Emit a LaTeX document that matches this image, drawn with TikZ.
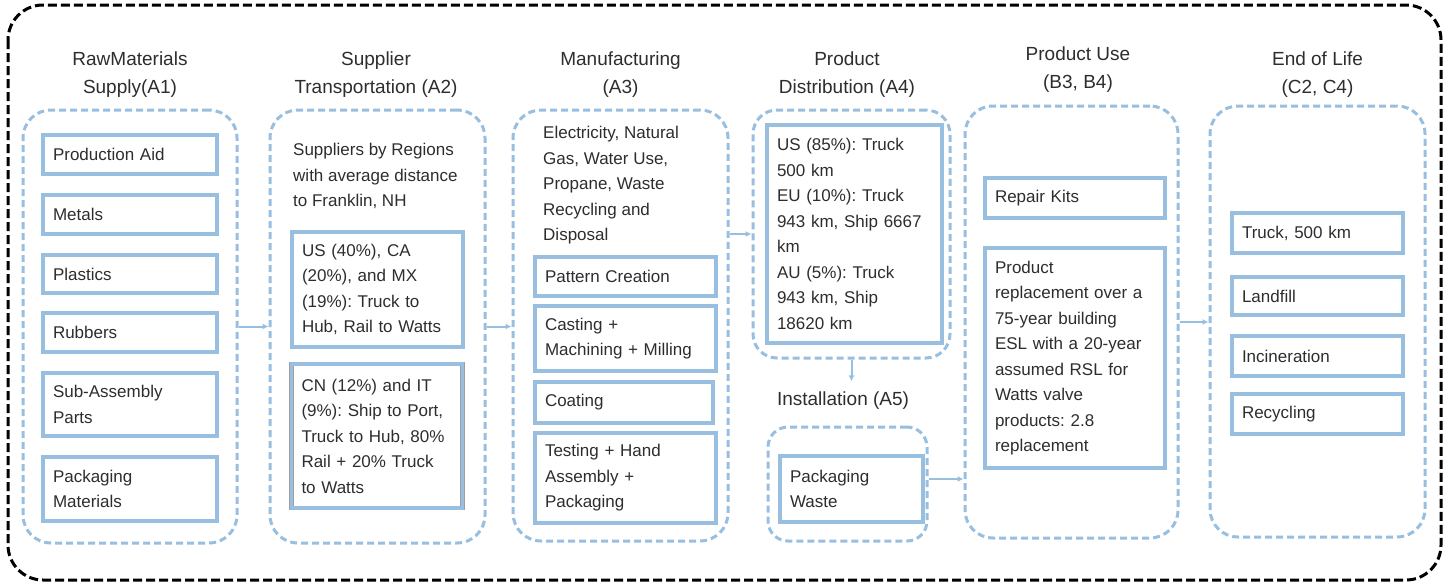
\documentclass[tikz,border=0pt]{standalone}
\usepackage{fontspec}
\setmainfont{Liberation Sans}
\usetikzlibrary{arrows.meta,positioning}
\definecolor{lcablue}{RGB}{152,190,224}
\definecolor{lcatext}{RGB}{45,45,45}
\frenchspacing

\begin{document}
\begin{tikzpicture}[x=1pt,y=-1pt,
    frame/.style={draw=black, line width=3pt, dash pattern=on 9pt off 4pt, rounded corners=35pt},
    stage/.style={draw=lcablue, line width=3pt, dash pattern=on 7pt off 4pt, rounded corners=28pt, inner sep=0pt},
    item/.style={draw=gray!75, double=lcablue, double distance=3.5pt, line width=0.5pt,
        inner xsep=10pt, inner ysep=0pt, text width=#1, align=left,
        font=\fontsize{17}{25.5}\selectfont, text=lcatext},
    note/.style={inner sep=0pt, anchor=north west, align=left,
        font=\fontsize{17}{25.5}\selectfont, text=lcatext},
    heading/.style={inner sep=0pt, align=center, font=\fontsize{19}{28}\selectfont, text=lcatext},
    flow/.style={draw=lcablue, line width=2pt, -{Latex[length=6pt,width=6pt]}}]
    \useasboundingbox (0,0) rectangle (1449,584);
    \draw[frame] (8,5) rectangle (1441,580);

    % life cycle stages
    \node[stage, minimum width=214pt, minimum height=433pt] (a1) at (130,326.5) {};
    \node[stage, minimum width=215pt, minimum height=433pt] (a2) at (377.5,326.5) {};
    \node[stage, minimum width=215pt, minimum height=431pt] (a3) at (620.5,325.5) {};
    \node[stage, minimum width=197pt, minimum height=248pt, rounded corners=24pt] (a4) at (851.5,234) {};
    \node[stage, minimum width=159pt, minimum height=114pt, rounded corners=20pt] (a5) at (847.5,484) {};
    \node[stage, minimum width=213pt, minimum height=432pt] (b) at (1071.5,322) {};
    \node[stage, minimum width=215pt, minimum height=431pt] (c) at (1317.5,321.5) {};

    \node[heading, above=11pt of a1] (a1 title) {RawMaterials\\Supply(A1)};
    \node[heading, above=11pt of a2, xshift=-1.5pt] (a2 title) {Supplier\\Transportation (A2)};
    \node[heading, above=11pt of a3] (a3 title) {Manufacturing\\(A3)};
    \node[heading, above=11pt of a4, xshift=-4.5pt] (a4 title) {Product\\Distribution (A4)};
    \node[heading, above=16pt of a5, xshift=-4.5pt] (a5 title) {Installation (A5)};
    \node[heading, above=12pt of b, xshift=6.5pt] (b title) {Product Use\\(B3, B4)};
    \node[heading, above=7pt of c] (c title) {End of Life\\(C2, C4)};

    % A1
    \node[item=154pt, minimum height=39pt] (aid) at (130,154.5) {Production Aid};
    \node[item=154pt, minimum height=39pt] (metals) at (130,214.5) {Metals};
    \node[item=154pt, minimum height=38pt] (plastics) at (130,274) {Plastics};
    \node[item=154pt, minimum height=39pt] (rubbers) at (130,332.5) {Rubbers};
    \node[item=154pt, minimum height=63pt] (parts) at (130,404.5) {Sub-Assembly\\Parts};
    \node[item=154pt, minimum height=64pt] (packmat) at (130,489) {Packaging\\Materials};

    % A2
    \node[note] (regions) at (293,143) {Suppliers by Regions\\with average distance\\to Franklin, NH};
    \node[item=151pt, minimum height=115pt] (truck hub) at (377.5,289.5)
        {US (40\%), CA\\(20\%), and MX\\(19\%): Truck to\\Hub, Rail to Watts};
    \node[item=151pt, minimum height=144pt] (ship port) at (377,436)
        {CN (12\%) and IT\\(9\%): Ship to Port,\\Truck to Hub, 80\%\\Rail + 20\% Truck\\to Watts};

    % A3
    \node[note] (energy) at (543,126) {Electricity, Natural\\Gas, Water Use,\\Propane, Waste\\Recycling and\\Disposal};
    \node[item=161pt, minimum height=39pt] (pattern) at (625.5,276.5) {Pattern Creation};
    \node[item=161pt, minimum height=65pt] (casting) at (625.5,338.5) {Casting +\\Machining + Milling};
    \node[item=158pt, minimum height=41pt] (coating) at (624,402.5) {Coating};
    \node[item=161pt, minimum height=90pt] (testing) at (625.5,478) {Testing + Hand\\Assembly +\\Packaging};

    % A4, A5
    \node[item=155pt, minimum height=218pt] (routes) at (854.5,234)
        {US (85\%): Truck\\500 km\\EU (10\%): Truck\\943 km, Ship 6667\\km\\AU (5\%): Truck\\943 km, Ship\\18620 km};
    \node[item=123pt, minimum height=66pt] (waste) at (851.5,489) {Packaging\\Waste};

    % B
    \node[item=160pt, minimum height=40pt] (repair) at (1075,198) {Repair Kits};
    \node[item=160pt, minimum height=220pt] (replace) at (1075,358)
        {Product\\replacement over a\\75-year building\\ESL with a 20-year\\assumed RSL for\\Watts valve\\products: 2.8\\replacement};

    % C
    \node[item=151pt, minimum height=40pt] (truck) at (1317.5,233) {Truck, 500 km};
    \node[item=151pt, minimum height=38pt] (landfill) at (1317.5,296) {Landfill};
    \node[item=151pt, minimum height=40pt] (incin) at (1317.5,356) {Incineration};
    \node[item=151pt, minimum height=40pt] (recycling) at (1317.5,414) {Recycling};

    \draw[flow] (a1) -- (a2);
    \draw[flow] (a2.east) -- (a2.east -| a3.west);
    \draw[flow] (a3.east |- a4.west) -- (a4.west);
    \draw[flow, shorten >=10pt] (a4.south) -- (a4.south |- a5 title.north);
    \draw[flow] ([yshift=5pt]a5.east) -- ([yshift=5pt]a5.east -| b.west);
    \draw[flow] (b.east) -- (b.east -| c.west);
\end{tikzpicture}
\end{document}
